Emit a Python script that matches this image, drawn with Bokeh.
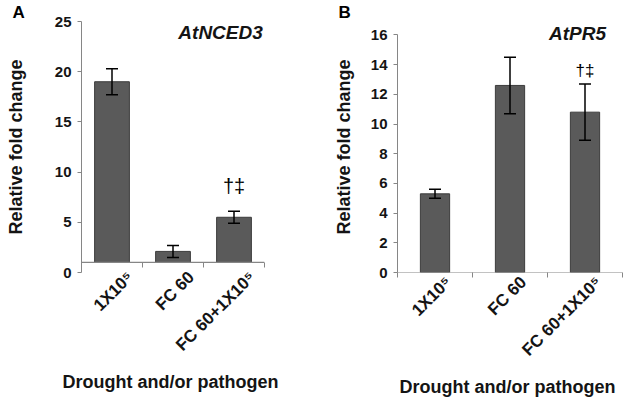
import math
from bokeh.plotting import figure
from bokeh.layouts import row
from bokeh.models import (ColumnDataSource, Range1d, FixedTicker, Whisker, TeeHead, Label, Span)
from bokeh.embed import file_html
from bokeh.resources import INLINE

# ---- data ----
categories = ["1X10\u2075", "FC 60", "FC 60+1X10\u2075"]
nced3_values = [19.0, 2.1, 5.5]
nced3_errors = [1.3, 0.6, 0.6]
pr5_values = [5.3, 12.6, 10.8]
pr5_errors = [0.3, 1.9, 1.9]
nced3_yticks = [0, 5, 10, 15, 20, 25]
pr5_yticks = [0, 2, 4, 6, 8, 10, 12, 14, 16]
marker_text = "\u2020\u2021"
marker_index = 2
x_title = "Drought  and/or pathogen"
y_title = "Relative fold change"

FONT = "Liberation Sans"
TXT = "#141414"
AXIS = "#868686"
BAR_FILL = "#5a5a5a"
BAR_LINE = "#3c3c3c"

HEIGHT = 400
TOP = 17
BOTTOM = 122
FRAME_H = HEIGHT - TOP - BOTTOM


def panel(letter, gene, values, errors, yticks, bar_width, baseline, width,
          left, right, top_gap, ylab_standoff, marker_dy, marker_size,
          title_pos, letter_dx, label_shift):
    xs = [i + 1 for i in range(len(categories))]
    y_end = yticks[-1] * FRAME_H / (FRAME_H - top_gap)
    p = figure(width=width, height=HEIGHT, output_backend="svg", toolbar_location=None,
               x_range=Range1d(0.5, len(categories) + 0.5),
               y_range=Range1d(yticks[0], y_end),
               min_border_left=left, min_border_right=right,
               min_border_top=TOP, min_border_bottom=BOTTOM)
    p.outline_line_color = None
    p.grid.visible = False
    p.background_fill_color = "white"
    p.border_fill_color = "white"

    # panel letter as the plot title
    p.title.text = letter
    p.title.align = "left"
    p.title.offset = letter_dx
    p.title.standoff = 0
    p.title.text_font = FONT
    p.title.text_font_style = "bold"
    p.title.text_font_size = "17px"
    p.title.text_color = "black"

    src = ColumnDataSource(dict(
        x=xs, top=values, bottom=[baseline] * len(xs),
        upper=[v + e for v, e in zip(values, errors)],
        lower=[v - e for v, e in zip(values, errors)]))
    p.vbar(x="x", top="top", bottom="bottom", width=bar_width, source=src,
           fill_color=BAR_FILL, line_color=BAR_LINE, line_width=1)
    w = Whisker(source=src, base="x", upper="upper", lower="lower",
                line_color="black", line_width=1.5, level="overlay",
                upper_head=TeeHead(size=12, line_color="black", line_width=1.5),
                lower_head=TeeHead(size=12, line_color="black", line_width=1.5))
    p.add_layout(w)

    # y axis
    ya = p.yaxis[0]
    ya.ticker = FixedTicker(ticks=yticks, minor_ticks=[])
    ya.bounds = (yticks[0], yticks[-1])
    ya.axis_line_color = AXIS
    ya.major_tick_line_color = AXIS
    ya.major_tick_out = 4
    ya.major_tick_in = 0
    ya.minor_tick_line_color = None
    ya.major_label_text_font = FONT
    ya.major_label_text_font_style = "bold"
    ya.major_label_text_font_size = "15px"
    ya.major_label_text_color = TXT
    ya.major_label_standoff = 6
    ya.axis_label = y_title
    ya.axis_label_text_font = FONT
    ya.axis_label_text_font_style = "bold"
    ya.axis_label_text_font_size = "18px"
    ya.axis_label_text_color = TXT
    ya.axis_label_standoff = ylab_standoff

    # x axis (its line is drawn at the baseline)
    xa = p.xaxis[0]
    label_pos = [x + label_shift for x in xs]
    xa.ticker = FixedTicker(ticks=label_pos, minor_ticks=[x + 0.5 for x in [0] + xs])
    xa.major_label_overrides = {lp: c for lp, c in zip(label_pos, categories)}
    xa.axis_line_color = None
    xa.major_tick_line_color = None
    xa.major_tick_out = 0
    xa.major_tick_in = 0
    xa.minor_tick_line_color = AXIS
    shift = int(round((baseline - yticks[0]) / (y_end - yticks[0]) * FRAME_H))
    xa.minor_tick_in = shift
    xa.minor_tick_out = 5 - shift
    xa.major_label_orientation = math.pi / 4
    xa.major_label_text_font = FONT
    xa.major_label_text_font_style = "bold"
    xa.major_label_text_font_size = "17px"
    xa.major_label_text_color = TXT
    xa.major_label_standoff = 2
    xa.axis_label = x_title
    xa.axis_label_text_font = FONT
    xa.axis_label_text_font_style = "bold"
    xa.axis_label_text_font_size = "18px"
    xa.axis_label_text_color = TXT
    xa.axis_label_standoff = 8
    p.add_layout(Span(location=baseline, dimension="width", line_color=AXIS, line_width=1.2))

    # gene title
    p.add_layout(Label(x=title_pos[0], y=title_pos[1],
                       text=gene, text_font=FONT, text_font_style="bold italic",
                       text_font_size="19px", text_color=TXT,
                       text_align="center", text_baseline="middle"))
    # significance marker
    p.add_layout(Label(x=xs[marker_index], y=values[marker_index] + errors[marker_index],
                       y_offset=marker_dy, text=marker_text, text_font=FONT,
                       text_font_size=marker_size, text_color="black",
                       text_align="center", text_baseline="bottom"))
    return p


pa = panel("A", "AtNCED3", nced3_values, nced3_errors, nced3_yticks, 0.57, 1.0, 318,
           81, 54, 0, 26, 14, "20px", (2.78, 23.9), -69, 0.3)
pb = panel("B", "AtPR5", pr5_values, pr5_errors, pr5_yticks, 0.39, 0, 306,
           79, 2, 14, 14, 4, "17px", (2.9, 16.1), -59, 0.18)

layout = row(pa, pb)
open("out.html", "w").write(file_html(layout, INLINE))
